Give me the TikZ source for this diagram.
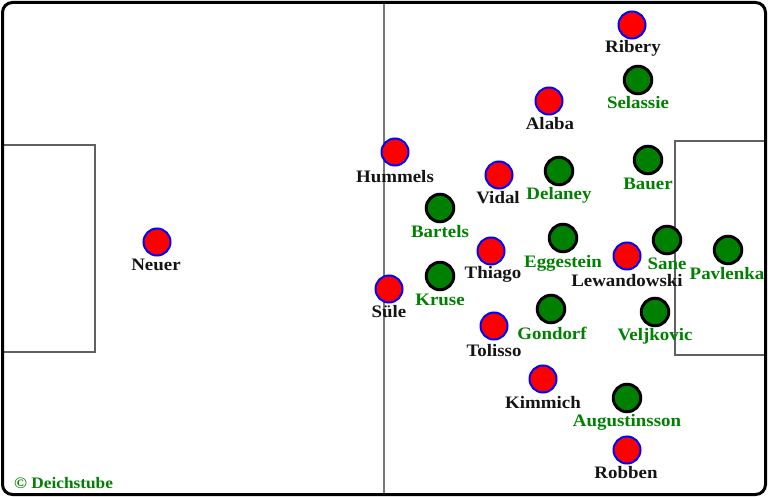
\documentclass[tikz,border=0pt]{standalone}
\usepackage{fontspec}
\setmainfont{Liberation Serif}[FakeStretch=1.08]
\usetikzlibrary{positioning}
\definecolor{teamgreen}{RGB}{0,128,0}
\definecolor{linegray}{RGB}{120,120,120}

\begin{document}
\begin{tikzpicture}[x=1pt,y=-1pt,
	bay/.style={circle,fill=red,draw=blue,line width=2pt,minimum size=27pt,inner sep=0pt},
	svw/.style={circle,fill=teamgreen,draw=black,line width=3pt,minimum size=27.5pt,inner sep=0pt},
	bname/.style={font=\bfseries\fontsize{17.5}{17.5}\selectfont,text=black!92,inner sep=0pt,yshift=-1pt},
	gname/.style={font=\bfseries\fontsize{17.5}{17.5}\selectfont,text=teamgreen,inner sep=0pt,yshift=-1pt}]
	\useasboundingbox (0,0) rectangle (768,497);
	% pitch
	\draw[linegray,line width=1.4pt] (384,2.5)--(384,494.5);
	\draw[linegray!80!black,line width=1.2pt] (2.5,145)--(95,145)--(95,352)--(2.5,352);
	\draw[linegray!80!black,line width=1.2pt] (765.5,141)--(675,141)--(675,355)--(765.5,355);
	\draw[line width=3pt,rounded corners=10pt] (2.5,2.5) rectangle (765.5,494.5);
	% Bayern
	\node (neuer) at (157,242) [bay] {};
	\node (neuer-l) at (156,264) [bname] {Neuer};
	\node (hummels) at (395,152) [bay] {};
	\node (hummels-l) at (395,176) [bname] {Hummels};
	\node (suele) at (389,289) [bay] {};
	\node (suele-l) at (389,311) [bname] {Süle};
	\node (alaba) at (549,101) [bay] {};
	\node (alaba-l) at (550,123) [bname] {Alaba};
	\node (ribery) at (632,25) [bay] {};
	\node (ribery-l) at (633,47) [bname] {Ribery};
	\node (vidal) at (499,175) [bay] {};
	\node (vidal-l) at (498,197) [bname] {Vidal};
	\node (thiago) at (491,251) [bay] {};
	\node (thiago-l) at (493,273) [bname] {Thiago};
	\node (tolisso) at (494,326) [bay] {};
	\node (tolisso-l) at (494,350) [bname] {Tolisso};
	\node (kimmich) at (543,379) [bay] {};
	\node (kimmich-l) at (543,402) [bname] {Kimmich};
	\node (lewa) at (627,256) [bay] {};
	\node (lewa-l) at (627,280) [bname] {Lewandowski};
	\node (robben) at (627,450) [bay] {};
	\node (robben-l) at (626,472) [bname] {Robben};
	% Bremen
	\node (pavlenka) at (728,250) [svw] {};
	\node (pavlenka-l) at (727,273) [gname] {Pavlenka};
	\node (selassie) at (638,80) [svw] {};
	\node (selassie-l) at (638,102) [gname] {Selassie};
	\node (bauer) at (648,160) [svw] {};
	\node (bauer-l) at (648,183) [gname] {Bauer};
	\node (delaney) at (559,171) [svw] {};
	\node (delaney-l) at (559,194) [gname] {Delaney};
	\node (bartels) at (440,208) [svw] {};
	\node (bartels-l) at (440,231) [gname] {Bartels};
	\node (eggestein) at (563,238) [svw] {};
	\node (eggestein-l) at (563,262) [gname] {Eggestein};
	\node (sane) at (667,240) [svw] {};
	\node (sane-l) at (667,263) [gname] {Sane};
	\node (kruse) at (440,276) [svw] {};
	\node (kruse-l) at (440,299) [gname] {Kruse};
	\node (gondorf) at (551,309) [svw] {};
	\node (gondorf-l) at (552,332) [gname] {Gondorf};
	\node (veljkovic) at (655,312) [svw] {};
	\node (veljkovic-l) at (655,335) [gname] {Veljkovic};
	\node (augustinsson) at (627,398) [svw] {};
	\node (augustinsson-l) at (627,421) [gname] {Augustinsson};
	% credit
	\node (credit) at (14,482) [gname,anchor=west,font=\bfseries\fontsize{16}{16}\selectfont] {© Deichstube};
\end{tikzpicture}
\end{document}
